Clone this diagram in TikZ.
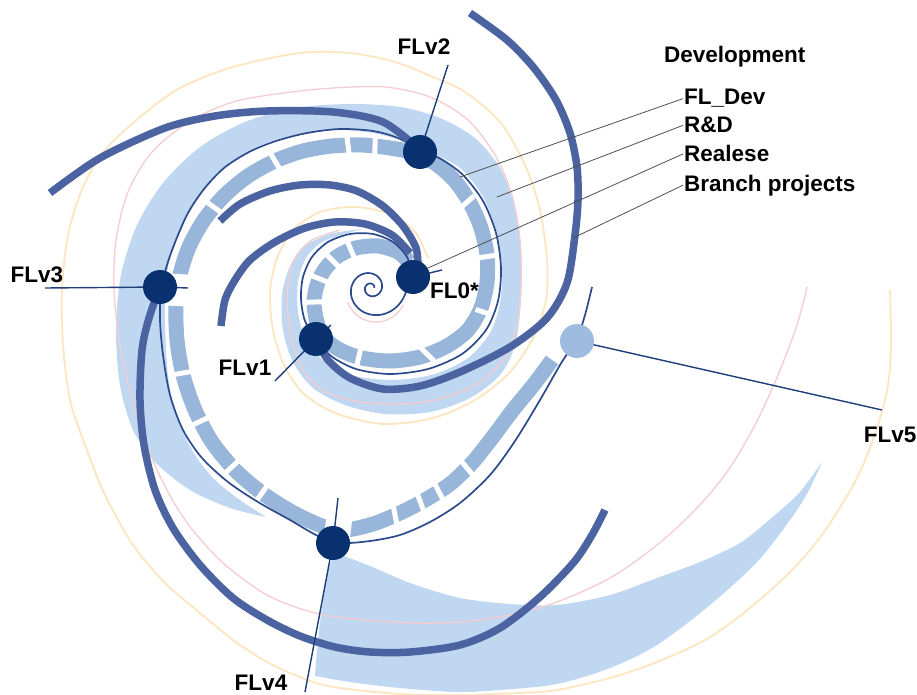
\documentclass[tikz,border=0pt]{standalone}
\usepackage{fontspec}
\setmainfont{Liberation Sans}
\usetikzlibrary{calc}
\definecolor{thickblue}{HTML}{4B63A1}
\definecolor{navy}{HTML}{0A316F}
\definecolor{bandblue}{HTML}{98B5DA}
\definecolor{ribbonblue}{HTML}{BFD7F1}
\definecolor{thinblue}{HTML}{2C4A8C}
\definecolor{paleyellow}{HTML}{FCE6C0}
\definecolor{palepink}{HTML}{F5CCCF}
\definecolor{softblue}{HTML}{9FBBDF}
\definecolor{leadblue}{HTML}{1E3D7B}
\definecolor{pointergray}{HTML}{505050}
% white cut across the segmented band, pointing towards a reference centre
\newcommand{\bandcut}[3][5]{\draw[white,line width=#1] ($(#2)!-11pt!(#3)$) -- ($(#2)!11pt!(#3)$);}
\begin{document}
\begin{tikzpicture}[x=1pt,y=-1pt,
  yellowline/.style={paleyellow,line width=1.8},
  pinkline/.style={palepink,line width=1.3},
  ribbon/.style={fill=ribbonblue},
  bandline/.style={bandblue,line width=15},
  thinline/.style={thinblue,line width=1.7},
  thickarc/.style={thickblue,line width=7.5},
  leader/.style={leadblue,line width=1.4},
  pointer/.style={pointergray,line width=0.8},
  milestone/.style={circle,fill=navy,minimum size=34pt,inner sep=0},
  lbl/.style={font=\bfseries\fontsize{22.5}{26}\selectfont,inner sep=0}]
\useasboundingbox (0,0) rectangle (917,695);
\fill[white] (0,0) rectangle (917,695);

% light blue ribbons
\fill[ribbon] plot[smooth] coordinates {(362,229) (330,234) (305,246) (290,266) (282,295) (283,330) (293,362) (313,388) (345,405) (385,414) (430,412) (470,398) (500,375) (515,345) (521,300) (521,250) (514,205) (500,168) (475,138) (440,118) (400,107) (350,104) (295,108) (245,122) (200,147) (163,183) (137,225) (121,275) (116,330) (120,385) (133,430) (155,462) (190,490) (230,508) (266,517)}
  -- plot[smooth] coordinates {(266,517) (240,500) (215,480) (195,455) (180,425) (170,390) (166,350) (165,300) (169,262) (179,232) (195,203) (217,175) (245,153) (275,140) (307,133) (340,130) (373,133) (400,140) (430,152) (460,168) (482,195) (496,230) (502,268) (500,303) (490,333) (468,358) (435,374) (395,380) (355,376) (325,362) (306,340) (298,312) (298,282) (306,258) (322,242) (345,234) (362,229)} -- cycle;
\fill[ribbon] plot[smooth] coordinates {(336,553) (370,566) (410,583) (460,598) (510,604) (557,605) (610,595) (657,578) (700,562) (740,543) (775,515) (800,492) (822,462)}
  -- plot[smooth] coordinates {(822,462) (808,492) (790,520) (757,562) (710,605) (657,645) (610,668) (557,684) (500,690) (457,692) (400,688) (350,682) (315,676)}
  -- plot[smooth] coordinates {(315,676) (318,640) (323,600) (328,570) (336,553)} -- cycle;

% pale guide spirals
\draw[yellowline] plot[smooth] coordinates {(428,258) (415,232) (390,214) (355,207) (320,212) (293,230) (277,258) (270,292) (273,330) (284,365) (303,393) (335,413) (383,424) (433,418) (475,400) (510,372) (533,338) (546,300) (547,260) (540,210) (525,165) (500,122) (465,92) (433,77) (395,62) (350,53) (300,53) (233,67) (180,88) (140,117) (105,150) (83,187) (68,235) (62,290) (63,345) (70,400) (85,445) (105,495) (133,545) (165,583) (200,613) (233,640) (267,662) (300,677) (333,687) (400,694) (457,695) (520,693) (557,690) (610,678) (657,662) (705,640) (745,612) (790,572) (824,532) (857,478) (877,428) (888,385) (891,345) (890,290)};
\draw[pinkline] plot[smooth] coordinates {(340,230) (312,240) (295,258) (288,285) (288,315) (294,348) (306,375) (328,393) (360,402) (400,404) (440,399) (477,384) (503,360) (517,325) (521,285) (520,240) (512,195) (495,155) (468,120) (430,97) (385,87) (333,88) (283,93) (233,102) (190,121) (152,152) (128,192) (116,240) (114,290) (120,345) (135,410) (157,470) (185,520) (222,562) (267,595) (315,613) (365,620) (415,623) (460,622) (510,615) (557,602) (610,578) (657,545) (695,510) (727,472) (755,425) (778,375) (797,325) (807,287)};
\draw[pinkline] plot[domain=200:335,samples=30,smooth,variable=\t] ({376+30*cos(\t)},{292-30*sin(\t)});

% segmented band
\draw[bandline] plot[smooth] coordinates {(409,262) (398,252) (378,246) (356,248) (338,256) (325,269) (317,285) (314,303) (317,322) (324,338) (340,350) (362,358) (390,361) (420,357) (447,346) (468,330) (481,308) (487,282) (487,255) (481,228) (470,203) (455,181) (436,164) (414,153) (390,148) (362,145) (332,146) (303,151) (275,161) (248,176) (224,196) (204,220) (189,247) (180,275) (176,305) (177,340) (183,375) (195,410) (212,442) (235,470) (262,493) (292,512) (322,526) (345,530) (373,524) (400,513) (425,500) (450,484) (472,463) (492,438) (513,410) (535,383) (552,360)};
\bandcut{351,250}{372,300}
\bandcut{333,261}{372,300}
\bandcut{320,279}{372,300}
\bandcut{315,302}{372,300}
\bandcut{359,356}{372,300}
\bandcut{426,353}{372,300}
\bandcut{486,313}{390,280}
\bandcut{484,257}{390,270}
\bandcut{466,203}{390,270}
\bandcut{375,146}{370,320}
\bandcut{348,145}{370,320}
\bandcut{275,161}{370,320}
\bandcut{215,208}{370,320}
\bandcut[32]{177,290}{370,300}
\bandcut{183,373}{370,340}
\bandcut{201,421}{370,340}
\bandcut{234,465}{370,340}
\bandcut{262,493}{370,340}
\bandcut[26]{338,529}{360,340}
\bandcut{395,515}{360,340}
\bandcut{420,501}{360,340}
\bandcut{438,490}{360,340}
\bandcut{467,468}{360,340}

% thin spiral line
\draw[thinline] plot[domain=0:715,samples=180,smooth,variable=\t] ({371+6*exp(0.003316*(\t-180))*cos(\t)},{288-6*exp(0.003316*(\t-180))*sin(\t)});
\draw[thinline] plot[smooth] coordinates {(413,277) (407,257) (393,242) (373,234) (350,234) (328,242) (312,257) (303,277) (301,299) (305,321) (316,339) (331,356) (356,369) (390,374) (428,369) (462,354) (486,330) (498,301) (501,268) (496,233) (483,201) (463,175) (441,159) (420,150) (398,138) (373,131) (340,129) (307,133) (276,141) (249,152) (224,168) (204,189) (188,213) (176,240) (167,265) (161,290) (160,320) (163,355) (170,395) (183,430) (202,458) (228,482) (258,502) (290,520) (318,536) (340,543) (370,541) (400,535) (430,522) (460,503) (490,475) (515,441) (540,400) (560,365) (577,338) (585,315) (592,287)};

% thick arcs
\draw[thickarc] plot[smooth] coordinates {(470,13) (507,40) (534,68) (556,100) (570,133) (577,167) (578,200) (575,235) (567,283) (547,318) (510,347) (460,372) (420,386) (383,389) (350,378) (328,360) (316,339)};
\draw[thickarc] plot[smooth] coordinates {(50,193) (100,158) (165,128) (215,116) (267,111) (333,112) (383,122) (420,150)};
\draw[thickarc] plot[smooth] coordinates {(160,287) (149,318) (142,350) (140,400) (144,445) (155,490) (173,528) (200,565) (233,598) (267,620) (300,636) (335,647) (370,652) (410,652) (460,645) (500,628) (540,597) (574,562) (592,535) (605,510)};
\draw[thickarc] plot[smooth] coordinates {(220,221) (240,204) (270,191) (300,185) (330,185) (357,191) (383,206) (403,226) (416,248) (418,268)};
\draw[thickarc] plot[smooth] coordinates {(221,326) (225,300) (235,280) (250,260) (275,242) (305,228) (335,222) (365,224) (392,235) (410,253)};

% milestone positions and their leader lines
\coordinate (c0) at (413,277);
\coordinate (c1) at (316,339);
\coordinate (c2) at (420,152);
\coordinate (c3) at (160,287);
\coordinate (c4) at (333,543);
\coordinate (c5) at (577,341);
\coordinate (v0tip) at (442,270);
\coordinate (v1a) at (275,381);
\coordinate (v1b) at (331,325);
\coordinate (v2tip) at (448,65);
\coordinate (v3a) at (45,288);
\coordinate (v3b) at (188,288);
\coordinate (v4a) at (338,498);
\coordinate (v4b) at (305,692);
\coordinate (v5tip) at (882,410);
\draw[leader] (c0) -- (v0tip);
\draw[leader] (v1a) -- (c1) -- (v1b);
\draw[leader] (c2) -- (v2tip);
\draw[leader] (v3a) -- (c3) -- (v3b);
\draw[leader] (v4a) -- (c4) -- (v4b);
\draw[leader] (c5) -- (v5tip);

% milestones
\node[milestone] (m0) at (c0) {};
\node[milestone] (m1) at (c1) {};
\node[milestone] (m2) at (c2) {};
\node[milestone] (m3) at (c3) {};
\node[milestone] (m4) at (c4) {};
\node[milestone,fill=softblue] (m5) at (c5) {};

% labels
\node[lbl,anchor=base] (t2) at (424,55) {FLv2};
\node[lbl,anchor=base] (t3) at (37,282) {FLv3};
\node[lbl,anchor=base] (t1) at (245,375) {FLv1};
\node[lbl,anchor=base] (t4) at (261,690) {FLv4};
\node[lbl,anchor=base] (t5) at (890,442) {FLv5};
\node[lbl,anchor=base west] (t0) at (430,298) {FL0*};
\node[lbl,anchor=base west] (tdev) at (664,63) {Development};
\node[lbl,anchor=base west] (tfl) at (684,105) {FL\_Dev};
\node[lbl,anchor=base west] (trd) at (684,133) {R\&D};
\node[lbl,anchor=base west] (trel) at (684,162) {Realese};
\node[lbl,anchor=base west] (tbr) at (684,191) {Branch projects};

% pointers from the legend
\coordinate (pfl) at (460,177);
\coordinate (prd) at (497,197);
\coordinate (prel) at (428,268);
\coordinate (pbr) at (573,238);
\draw[pointer] ([xshift=-1pt]tfl.west) -- (pfl);
\draw[pointer] ([xshift=-1pt]trd.west) -- (prd);
\draw[pointer] ([xshift=-1pt]trel.west) -- (prel);
\draw[pointer] ([xshift=-1pt]tbr.west) -- (pbr);
\end{tikzpicture}
\end{document}
